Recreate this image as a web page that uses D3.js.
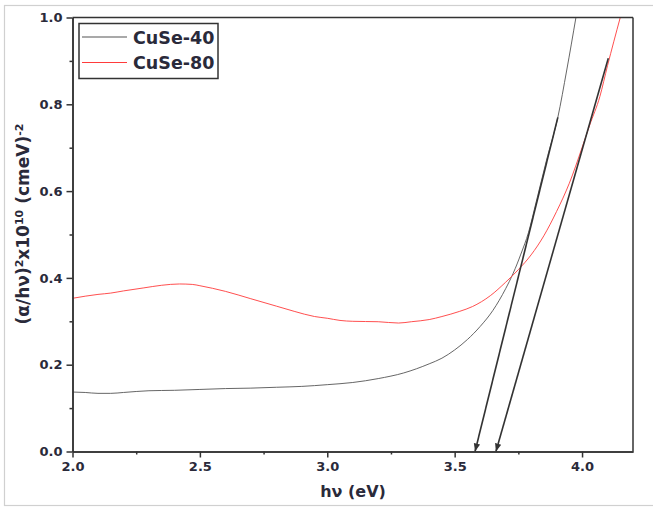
<!DOCTYPE html>
<html>
<head>
<meta charset="utf-8">
<script src="https://cdn.jsdelivr.net/npm/d3@7"></script>
<style>
  html, body { margin: 0; padding: 0; background: #fff; }
  svg { display: block; }
  text { font-family: "DejaVu Sans", sans-serif; font-weight: bold; fill: #2a2a3a; }
</style>
</head>
<body>
<svg id="chart" width="653" height="510"></svg>
<script>
// Tauc plot data: photon energy (eV) vs (α/hν)^2 ×10^10
const hv40  = [2.00, 2.05, 2.10, 2.15, 2.20, 2.30, 2.40, 2.50, 2.60, 2.70, 2.80, 2.90, 3.00, 3.10, 3.20, 3.30, 3.40, 3.45, 3.50, 3.55, 3.60, 3.65, 3.70, 3.73, 3.76, 3.79, 3.82, 3.86, 3.905, 3.94, 3.976];
const abs40 = [0.137, 0.136, 0.134, 0.134, 0.136, 0.140, 0.141, 0.143, 0.145, 0.146, 0.148, 0.150, 0.154, 0.159, 0.168, 0.181, 0.202, 0.215, 0.234, 0.258, 0.288, 0.325, 0.375, 0.411, 0.455, 0.505, 0.575, 0.670, 0.770, 0.879, 1.000];

const hv80  = [2.00, 2.10, 2.15, 2.20, 2.28, 2.35, 2.42, 2.47, 2.50, 2.55, 2.60, 2.70, 2.80, 2.87, 2.95, 3.00, 3.05, 3.10, 3.20, 3.28, 3.33, 3.40, 3.45, 3.52, 3.57, 3.64, 3.70, 3.75, 3.80, 3.85, 3.90, 3.95, 4.00, 4.03, 4.07, 4.10, 4.15];
const abs80 = [0.353, 0.362, 0.365, 0.370, 0.377, 0.383, 0.386, 0.385, 0.382, 0.376, 0.369, 0.352, 0.335, 0.323, 0.311, 0.307, 0.302, 0.300, 0.299, 0.296, 0.299, 0.304, 0.311, 0.323, 0.334, 0.359, 0.390, 0.419, 0.453, 0.497, 0.553, 0.618, 0.700, 0.752, 0.818, 0.889, 1.000];

// Linear extrapolations down to the energy axis (band-gap estimates)
const fitHv40 = [3.905, 3.580];
const fitY40  = [0.770, 0.000];
const fitHv80 = [4.103, 3.662];
const fitY80  = [0.906, 0.000];

const seriesNames = ["CuSe-40", "CuSe-80"];
const seriesColors = ["#555555", "#ff3b3b"];

const xTicks = [2.0, 2.5, 3.0, 3.5, 4.0];
const xMinor = [2.25, 2.75, 3.25, 3.75];
const yTicks = [0.0, 0.2, 0.4, 0.6, 0.8, 1.0];
const yMinor = [0.1, 0.3, 0.5, 0.7, 0.9];

const svg = d3.select("#chart");

// outer light frame
svg.append("rect")
  .attr("x", 4.5).attr("y", 5.5).attr("width", 660).attr("height", 500)
  .attr("fill", "none").attr("stroke", "#d0d0d0").attr("stroke-width", 1.2);

const L = 72.5, R = 633, T = 17.5, B = 451.5;
const x = d3.scaleLinear().domain([2.0, 4.2]).range([L, R]);
const y = d3.scaleLinear().domain([0, 1]).range([B, T]);

svg.append("defs").append("clipPath").attr("id", "plotclip")
  .append("rect").attr("x", L).attr("y", T).attr("width", R - L).attr("height", B - T);

svg.select("defs").append("marker")
  .attr("id", "arrowhead")
  .attr("viewBox", "0 0 10 10")
  .attr("refX", 10).attr("refY", 5)
  .attr("markerWidth", 5).attr("markerHeight", 5)
  .attr("markerUnits", "strokeWidth")
  .attr("orient", "auto")
  .append("path").attr("d", "M0,1 L10,5 L0,9 Z").attr("fill", "#333");

const plot = svg.append("g").attr("clip-path", "url(#plotclip)");

const line = d3.line().x(d => x(d[0])).y(d => y(d[1])).curve(d3.curveMonotoneX);

const series = [
  { hv: hv40, v: abs40 },
  { hv: hv80, v: abs80 }
];
series.forEach((s, i) => {
  plot.append("path")
    .datum(s.hv.map((h, k) => [h, s.v[k]]))
    .attr("d", line)
    .attr("fill", "none")
    .attr("stroke", seriesColors[i])
    .attr("stroke-width", 0.9);
});

// extrapolation arrows
const straight = d3.line().x(d => x(d[0])).y(d => y(d[1]));
[[fitHv40, fitY40], [fitHv80, fitY80]].forEach(([hx, hy]) => {
  svg.append("path")
    .datum(hx.map((h, k) => [h, hy[k]]))
    .attr("d", straight)
    .attr("fill", "none")
    .attr("stroke", "#333")
    .attr("stroke-width", 1.6)
    .attr("marker-end", "url(#arrowhead)");
});

// frame: top and right edges
svg.append("line").attr("x1", L).attr("x2", R).attr("y1", T).attr("y2", T)
  .attr("stroke", "#333").attr("stroke-width", 1.5);
svg.append("line").attr("x1", R).attr("x2", R).attr("y1", T).attr("y2", B)
  .attr("stroke", "#333").attr("stroke-width", 1.5);

// axes
const fmt = d3.format(".1f");
const xAxis = svg.append("g").attr("transform", `translate(0,${B})`)
  .call(d3.axisBottom(x).tickValues(xTicks).tickFormat(fmt).tickSize(6).tickPadding(4).tickSizeOuter(0));
const xAxisMinor = svg.append("g").attr("transform", `translate(0,${B})`)
  .call(d3.axisBottom(x).tickValues(xMinor).tickFormat("").tickSize(3).tickSizeOuter(0));
const yAxis = svg.append("g").attr("transform", `translate(${L},0)`)
  .call(d3.axisLeft(y).tickValues(yTicks).tickFormat(fmt).tickSize(6).tickPadding(4).tickSizeOuter(0));
const yAxisMinor = svg.append("g").attr("transform", `translate(${L},0)`)
  .call(d3.axisLeft(y).tickValues(yMinor).tickFormat("").tickSize(3).tickSizeOuter(0));

[xAxis, xAxisMinor, yAxis, yAxisMinor].forEach(g => {
  g.select(".domain").attr("stroke", "#333").attr("stroke-width", 1.5);
  g.selectAll(".tick line").attr("stroke", "#333").attr("stroke-width", 1.5);
  g.selectAll(".tick text").style("font-size", "13px")
    .style("font-family", "'DejaVu Sans', sans-serif").style("font-weight", "bold").attr("fill", "#2a2a3a");
});

// axis titles
svg.append("text")
  .attr("x", 353).attr("y", 497)
  .attr("text-anchor", "middle")
  .style("font-size", "16px")
  .text("hν (eV)");

const yt = svg.append("text")
  .attr("transform", "translate(29,224) rotate(-90)")
  .attr("text-anchor", "middle")
  .style("font-size", "17px");
yt.append("tspan").text("(α/hν)");
yt.append("tspan").attr("dy", -6).style("font-size", "11px").text("2");
yt.append("tspan").attr("dy", 6).text("x10");
yt.append("tspan").attr("dy", -6).style("font-size", "11px").text("10");
yt.append("tspan").attr("dy", 6).text(" (cmeV)");
yt.append("tspan").attr("dy", -6).style("font-size", "11px").text("-2");

// legend
const lg = svg.append("g");
lg.append("rect").attr("x", 79).attr("y", 23.5).attr("width", 139).attr("height", 55)
  .attr("fill", "#fff").attr("stroke", "#333").attr("stroke-width", 1.5);
seriesNames.forEach((name, i) => {
  const yy = 37 + i * 25.5;
  lg.append("line").attr("x1", 82).attr("x2", 127).attr("y1", yy).attr("y2", yy)
    .attr("stroke", seriesColors[i]).attr("stroke-width", 1.2);
  lg.append("text").attr("x", 133).attr("y", yy + 6.5)
    .style("font-size", "17.5px").text(name);
});
</script>
</body>
</html>
